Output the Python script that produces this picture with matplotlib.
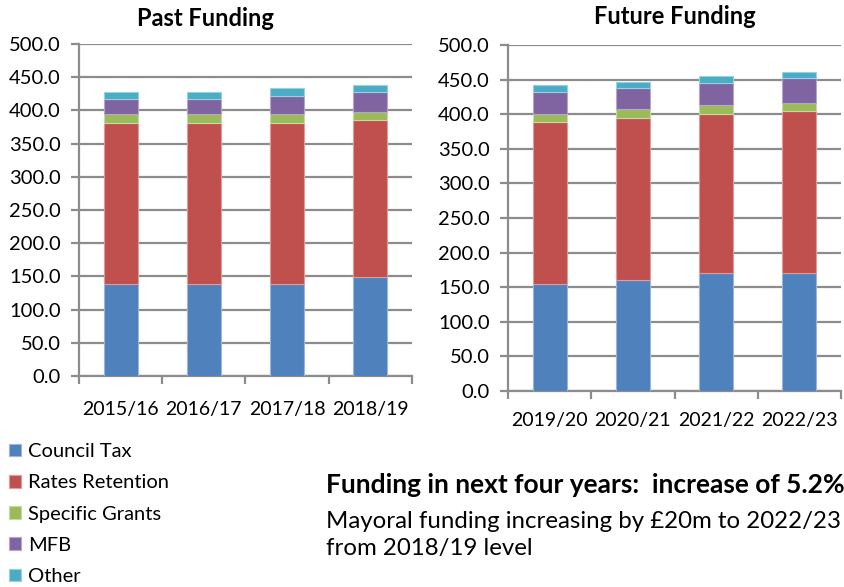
import matplotlib
matplotlib.use("Agg")
import matplotlib.pyplot as plt
import numpy as np

# Funding by source, £m
past_years = ["2015/16", "2016/17", "2017/18", "2018/19"]
future_years = ["2019/20", "2020/21", "2021/22", "2022/23"]
sources = ["Council Tax", "Rates Retention", "Specific Grants", "MFB", "Other"]

past_council_tax = [138.0, 138.0, 138.0, 149.0]
past_rates = [243.5, 243.5, 243.5, 236.0]
past_grants = [13.5, 13.5, 13.5, 13.0]
past_mfb = [21.5, 21.5, 26.0, 29.6]
past_other = [11.1, 11.1, 13.0, 10.0]

future_council_tax = [154.0, 161.0, 170.0, 170.0]
future_rates = [235.0, 233.5, 231.0, 234.3]
future_grants = [12.0, 12.5, 13.0, 12.5]
future_mfb = [31.0, 30.6, 31.0, 35.1]
future_other = [9.6, 9.4, 9.8, 9.1]

colors = ["#4F81BD", "#C0504D", "#9BBB59", "#8064A2", "#4BACC6"]
edges = ["#9DB5DA", "#DE9D9B", "#C6DAA3", "#B6A6CB", "#98D1E0"]

plt.rcParams["font.family"] = ["Lato", "DejaVu Sans"]
W, H = 845, 587
fig = plt.figure(figsize=(W / 100, H / 100), dpi=100)
grid_col = "#8C8C8C"


def px_axes(x0, y_top, x1, y_bot):
    return fig.add_axes([x0 / W, 1 - y_bot / H, (x1 - x0) / W, (y_bot - y_top) / H])


def stacked(ax, years, series, label_pad):
    x = np.arange(len(years))
    bottom = np.zeros(len(years))
    handles = []
    for vals, c, e in zip(series, colors, edges):
        h = ax.bar(x, vals, 0.41, bottom=bottom, color=c, edgecolor=e,
                   linewidth=0.8, zorder=3)
        handles.append(h)
        bottom += np.array(vals)
    ax.set_xlim(-0.5, len(years) - 0.5)
    ax.set_ylim(0, 500)
    ax.set_yticks(np.arange(0, 501, 50))
    ax.set_yticklabels([f"{v:.1f}" for v in np.arange(0, 501, 50)])
    ax.yaxis.grid(True, color=grid_col, linewidth=1.6, zorder=0)
    ax.set_xticks(np.arange(-0.5, len(years)), labels=[])
    ax.set_xticks(x, labels=years, minor=True)
    ax.tick_params(axis="x", which="major", length=6, width=1.6, color=grid_col)
    ax.tick_params(axis="x", which="minor", length=0, pad=label_pad, labelsize=14)
    ax.tick_params(axis="y", length=6, width=1.6, color=grid_col, pad=7, labelsize=14.5)
    for s in ["top", "right"]:
        ax.spines[s].set_visible(False)
    for s in ["left", "bottom"]:
        ax.spines[s].set_color(grid_col)
        ax.spines[s].set_linewidth(1.6)
    return handles


ax1 = px_axes(79, 44, 412, 376)
handles = stacked(ax1, past_years,
                  [past_council_tax, past_rates, past_grants, past_mfb, past_other], 18)

ax2 = px_axes(508, 45, 841, 391)
stacked(ax2, future_years,
        [future_council_tax, future_rates, future_grants, future_mfb, future_other], 15)

fig.text(205 / W, 1 - 19 / H, "Past Funding", ha="center", va="center",
         fontsize=17, fontweight="bold")
fig.text(675 / W, 1 - 16 / H, "Future Funding", ha="center", va="center",
         fontsize=17, fontweight="bold")

fig.legend(handles, sources, loc="upper left", bbox_to_anchor=(9 / W, 1 - 443 / H),
           frameon=False, fontsize=14.5, handlelength=0.6, handleheight=0.6,
           handletextpad=0.35, labelspacing=0.71, borderpad=0, borderaxespad=0)

fig.text(326 / W, 1 - 485 / H, "Funding in next four years:  increase of 5.2%",
         ha="left", va="center", fontsize=19, fontweight="bold")
fig.text(326 / W, 1 - 522 / H, "Mayoral funding increasing by £20m to 2022/23",
         ha="left", va="center", fontsize=17.3)
fig.text(326 / W, 1 - 549 / H, "from 2018/19 level",
         ha="left", va="center", fontsize=17.3)

fig.savefig("out.png", dpi=100)
